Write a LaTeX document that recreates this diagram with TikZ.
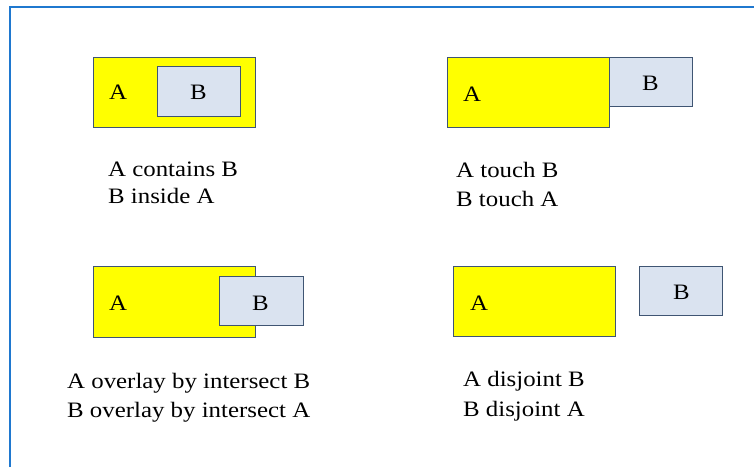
\documentclass[tikz,border=0pt]{standalone}
\usepackage{fontspec}
\setmainfont{Liberation Serif}[FakeStretch=1.13]
\definecolor{frameblue}{HTML}{1F78CF}
\definecolor{boxedge}{HTML}{3F5573}
\definecolor{bfill}{HTML}{DAE3F0}
\definecolor{ayellow}{HTML}{FFFF00}
\begin{document}
\begin{tikzpicture}[x=1pt,y=-1pt,
  boxA/.style={draw=boxedge,line width=1pt,fill=ayellow},
  boxB/.style={draw=boxedge,line width=1pt,fill=bfill},
  lbl/.style={anchor=base west,inner sep=0pt,font=\fontsize{22}{26}\selectfont},
  captxt/.style={anchor=base west,inner sep=0pt,font=\fontsize{22}{26}\selectfont},
  frameline/.style={draw=frameblue,line width=2pt}]
\useasboundingbox (0,0) rectangle (754,467);
% frame
\coordinate (ftl) at (9.5,7);
\coordinate (ftr) at (754,7);
\coordinate (fbl) at (9.5,467);
\draw[frameline] (fbl) -- (ftl) -- (ftr);
% panel 1: contains
\path[boxA] (93,57) rectangle (255,127);
\path[boxB] (157,66) rectangle (240,116);
\node[lbl] (a1) at (109,99) {A};
\node[lbl] (b1) at (190,99) {B};
\node[captxt] (c1a) at (108,176) {A contains B};
\node[captxt] (c1b) at (108,203) {B inside A};
% panel 2: touch
\path[boxA] (447,57) rectangle (609,127);
\path[boxB] (609,57) rectangle (692,106);
\node[lbl] (a2) at (463,101) {A};
\node[lbl] (b2) at (642,90) {B};
\node[captxt] (c2a) at (456,177) {A touch B};
\node[captxt] (c2b) at (456,206) {B touch A};
% panel 3: overlay
\path[boxA] (93,266) rectangle (255,337);
\path[boxB] (219,276) rectangle (303,325);
\node[lbl] (a3) at (109,310) {A};
\node[lbl] (b3) at (252,310) {B};
\node[captxt] (c3a) at (67,388) {A overlay by intersect B};
\node[captxt] (c3b) at (67,417) {B overlay by intersect A};
% panel 4: disjoint
\path[boxA] (453,266) rectangle (615,336);
\path[boxB] (639,266) rectangle (722,315);
\node[lbl] (a4) at (470,310) {A};
\node[lbl] (b4) at (673,299) {B};
\node[captxt] (c4a) at (463,386) {A disjoint B};
\node[captxt] (c4b) at (463,416) {B disjoint A};
\end{tikzpicture}
\end{document}
